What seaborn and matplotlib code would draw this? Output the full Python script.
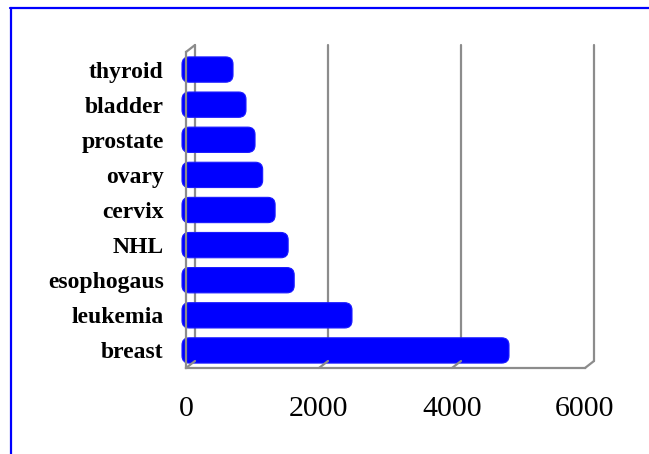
import numpy as np
import matplotlib
matplotlib.use('Agg')
import matplotlib.pyplot as plt
import matplotlib.transforms as mtransforms
from matplotlib.patches import FancyBboxPatch
from matplotlib.lines import Line2D
import seaborn as sns

cancers = ['thyroid', 'bladder', 'prostate', 'ovary', 'cervix', 'NHL', 'esophogaus', 'leukemia', 'breast']
cases = [707, 902, 1038, 1153, 1340, 1536, 1627, 2496, 4857]
x_ticks = [0, 2000, 4000, 6000]

sns.set_style('white')
plt.rcParams['font.family'] = ['Liberation Serif', 'DejaVu Serif']

W, H, DPI = 649, 454, 100
fig = plt.figure(figsize=(W / DPI, H / DPI), dpi=DPI)
ax = fig.add_axes([186 / W, 1 - 368 / H, (585 - 186) / W, (368 - 52) / H])

sns.barplot(x=cases, y=cancers, orient='h', color='#0000ff', saturation=1,
            width=0.72, ax=ax, zorder=3)

# swap plain rectangles for rounded ones (excel cylinder look)
aspect = (9 / 316) / (6000 / 399)
for p in list(ax.patches):
    x0, y0, w, h = p.get_x(), p.get_y(), p.get_width(), p.get_height()
    rb = FancyBboxPatch((x0 - 60, y0), w + 60, h, boxstyle='round,pad=0,rounding_size=110',
                        mutation_aspect=aspect, fc='#0000ff', ec='#1a1aff', lw=0.8,
                        zorder=3, clip_on=False)
    p.set_visible(False)
    ax.add_patch(rb)

ax.set_xlim(0, 6000)
ax.set_ylim(8.5, -0.5)
ax.set_xticks(x_ticks)
ax.set_xlabel('')
ax.set_ylabel('')

grey = '#8c8c8c'
for s in ['top', 'right']:
    ax.spines[s].set_visible(False)
for s in ['left', 'bottom']:
    ax.spines[s].set_color(grey)
    ax.spines[s].set_linewidth(1.6)
    ax.spines[s].set_zorder(4)

ax.tick_params(axis='x', length=5, width=1.6, color=grey, pad=15, labelsize=21.5,
               labelcolor='black')
ax.tick_params(axis='y', which='major', length=0, pad=16, labelsize=17,
               labelcolor='black')
ax.set_yticks(np.arange(-0.5, 9, 1), minor=True)
ax.tick_params(axis='y', which='minor', length=4.5, width=1.6, color=grey)
for t in ax.get_yticklabels():
    t.set_fontweight('bold')

# back wall, shifted up-right for the 3d look
back = ax.transData + mtransforms.ScaledTranslation(0.09, 0.07, fig.dpi_scale_trans)
for xv in x_ticks:
    ax.plot([xv, xv], [8.5, -0.5], color=grey, lw=1.6, transform=back, clip_on=False, zorder=1)
# connectors front -> back
for xv, yv in [(0, -0.5), (0, 8.5), (2000, 8.5), (4000, 8.5), (6000, 8.5)]:
    p0 = ax.transData.transform((xv, yv))
    p1 = back.transform((xv, yv))
    fig.add_artist(Line2D([p0[0] / W, p1[0] / W], [p0[1] / H, p1[1] / H],
                          color=grey, lw=1.6, zorder=1))

# blue frame (top and left edges visible)
fig.add_artist(Line2D([10 / W, 1.0], [1 - 8 / H, 1 - 8 / H], color='#0000ff', lw=1.6))
fig.add_artist(Line2D([11 / W, 11 / W], [0, 1 - 8 / H], color='#0000ff', lw=1.6))

fig.savefig('out.png', dpi=DPI)
